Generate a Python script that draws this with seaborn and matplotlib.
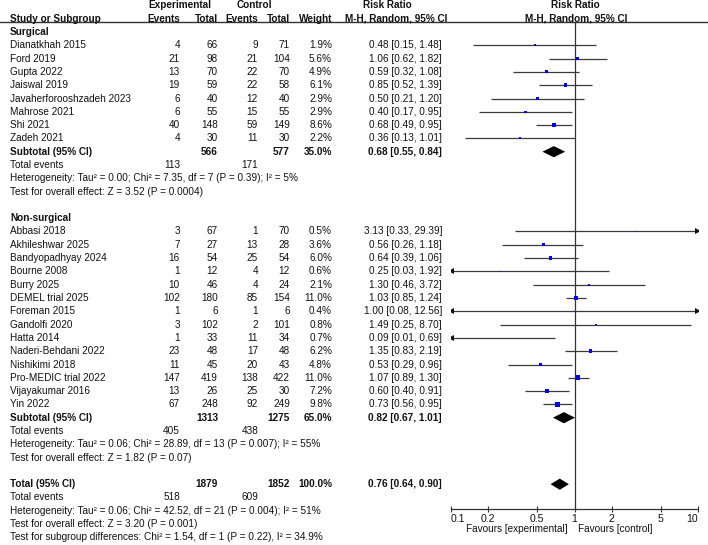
import numpy as np
import pandas as pd
import matplotlib
matplotlib.use("Agg")
import matplotlib.pyplot as plt
import seaborn as sns

# ---- data ----
surg_names = ["Dianatkhah 2015", "Ford 2019", "Gupta 2022", "Jaiswal 2019",
              "Javaherforooshzadeh 2023", "Mahrose 2021", "Shi 2021", "Zadeh 2021"]
surg_exp_ev = [4, 21, 13, 19, 6, 6, 40, 4]
surg_exp_n = [66, 98, 70, 59, 40, 55, 148, 30]
surg_ctl_ev = [9, 21, 22, 22, 12, 15, 59, 11]
surg_ctl_n = [71, 104, 70, 58, 40, 55, 149, 30]
surg_weight = [1.9, 5.6, 4.9, 6.1, 2.9, 2.9, 8.6, 2.2]
surg_rr = [0.48, 1.06, 0.59, 0.85, 0.50, 0.40, 0.68, 0.36]
surg_lo = [0.15, 0.62, 0.32, 0.52, 0.21, 0.17, 0.49, 0.13]
surg_hi = [1.48, 1.82, 1.08, 1.39, 1.20, 0.95, 0.95, 1.01]

nons_names = ["Abbasi 2018", "Akhileshwar 2025", "Bandyopadhyay 2024", "Bourne 2008",
              "Burry 2025", "DEMEL trial 2025", "Foreman 2015", "Gandolfi 2020",
              "Hatta 2014", "Naderi-Behdani 2022", "Nishikimi 2018",
              "Pro-MEDIC trial 2022", "Vijayakumar 2016", "Yin 2022"]
nons_exp_ev = [3, 7, 16, 1, 10, 102, 1, 3, 1, 23, 11, 147, 13, 67]
nons_exp_n = [67, 27, 54, 12, 46, 180, 6, 102, 33, 48, 45, 419, 26, 248]
nons_ctl_ev = [1, 13, 25, 4, 4, 85, 1, 2, 11, 17, 20, 138, 25, 92]
nons_ctl_n = [70, 28, 54, 12, 24, 154, 6, 101, 34, 48, 43, 422, 30, 249]
nons_weight = [0.5, 3.6, 6.0, 0.6, 2.1, 11.0, 0.4, 0.8, 0.7, 6.2, 4.8, 11.0, 7.2, 9.8]
nons_rr = [3.13, 0.56, 0.64, 0.25, 1.30, 1.03, 1.00, 1.49, 0.09, 1.35, 0.53, 1.07, 0.60, 0.73]
nons_lo = [0.33, 0.26, 0.39, 0.03, 0.46, 0.85, 0.08, 0.25, 0.01, 0.83, 0.29, 0.89, 0.40, 0.56]
nons_hi = [29.39, 1.18, 1.06, 1.92, 3.72, 1.24, 12.56, 8.70, 0.69, 2.19, 0.96, 1.30, 0.91, 0.95]

# pooled rows: surgical, non-surgical, total
pool_labels = ["Subtotal (95% CI)", "Subtotal (95% CI)", "Total (95% CI)"]
pool_exp_n = [566, 1313, 1879]
pool_ctl_n = [577, 1275, 1852]
pool_weight = [35.0, 65.0, 100.0]
pool_rr = [0.68, 0.82, 0.76]
pool_lo = [0.55, 0.67, 0.64]
pool_hi = [0.84, 1.01, 0.90]
pool_exp_ev = [113, 405, 518]
pool_ctl_ev = [171, 438, 609]
pool_het = ["Heterogeneity: Tau² = 0.00; Chi² = 7.35, df = 7 (P = 0.39); I² = 5%",
            "Heterogeneity: Tau² = 0.06; Chi² = 28.89, df = 13 (P = 0.007); I² = 55%",
            "Heterogeneity: Tau² = 0.06; Chi² = 42.52, df = 21 (P = 0.004); I² = 51%"]
pool_test = ["Test for overall effect: Z = 3.52 (P = 0.0004)",
             "Test for overall effect: Z = 1.82 (P = 0.07)",
             "Test for overall effect: Z = 3.20 (P = 0.001)"]
subgroup_test = "Test for subgroup differences: Chi² = 1.54, df = 1 (P = 0.22), I² = 34.9%"

ticks = [0.1, 0.2, 0.5, 1, 2, 5, 10]
tick_labels = ["0.1", "0.2", "0.5", "1", "2", "5", "10"]

# ---- row layout ----
surg_rows = list(range(1, 9))
nons_rows = list(range(15, 29))
pool_rows = [9, 29, 34]

studies = pd.DataFrame({
    "name": surg_names + nons_names,
    "exp_ev": surg_exp_ev + nons_exp_ev,
    "exp_n": surg_exp_n + nons_exp_n,
    "ctl_ev": surg_ctl_ev + nons_ctl_ev,
    "ctl_n": surg_ctl_n + nons_ctl_n,
    "weight": surg_weight + nons_weight,
    "rr": surg_rr + nons_rr,
    "lo": surg_lo + nons_lo,
    "hi": surg_hi + nons_hi,
    "row": surg_rows + nons_rows,
})

sns.set_theme(style="white")
plt.rcParams["font.family"] = ["Liberation Sans", "DejaVu Sans"]

W, H = 708, 545
fig = plt.figure(figsize=(W / 100, H / 100), dpi=100)

ROW0, STEP = 32.0, 13.3  # pixel y of row 0 and row spacing


def k_of(px):
    return (px - ROW0) / STEP


# text axes covering the whole figure: x in pixels, y in rows
tx = fig.add_axes([0, 0, 1, 1])
tx.set_xlim(0, W)
tx.set_ylim(k_of(H), k_of(0))
tx.axis("off")

FS = 7.2
C_TXT = "#111111"


def put(x, k, s, ha="left", bold=False):
    tx.text(x, k, s, ha=ha, va="center", fontsize=FS, color=C_TXT,
            fontweight="bold" if bold else "normal")


X_NAME, X_EE, X_EN, X_CE, X_CN, X_W, X_RR = 10, 180, 218, 258, 290, 332, 442

# headers
put(179.5, -2, "Experimental", ha="center", bold=True)
put(254.5, -2, "Control", ha="center", bold=True)
put(387.5, -2, "Risk Ratio", ha="center", bold=True)
put(575, -2, "Risk Ratio", ha="center", bold=True)
put(X_NAME, -1, "Study or Subgroup", bold=True)
put(X_EE, -1, "Events", ha="right", bold=True)
put(X_EN, -1, "Total", ha="right", bold=True)
put(X_CE, -1, "Events", ha="right", bold=True)
put(X_CN, -1, "Total", ha="right", bold=True)
put(X_W, -1, "Weight", ha="right", bold=True)
put(396, -1, "M-H, Random, 95% CI", ha="center", bold=True)
put(576, -1, "M-H, Random, 95% CI", ha="center", bold=True)
tx.plot([0, W], [k_of(22.3), k_of(22.3)], color="#333333", lw=1.0)

put(X_NAME, 0, "Surgical", bold=True)
put(X_NAME, 14, "Non-surgical", bold=True)

for _, r in studies.iterrows():
    k = r["row"]
    put(X_NAME, k, r["name"])
    put(X_EE, k, f"{r['exp_ev']}", ha="right")
    put(X_EN, k, f"{r['exp_n']}", ha="right")
    put(X_CE, k, f"{r['ctl_ev']}", ha="right")
    put(X_CN, k, f"{r['ctl_n']}", ha="right")
    put(X_W, k, f"{r['weight']:.1f}%", ha="right")
    put(X_RR, k, f"{r['rr']:.2f} [{r['lo']:.2f}, {r['hi']:.2f}]", ha="right")

for i, k in enumerate(pool_rows):
    put(X_NAME, k, pool_labels[i], bold=True)
    put(X_EN, k, f"{pool_exp_n[i]}", ha="right", bold=True)
    put(X_CN, k, f"{pool_ctl_n[i]}", ha="right", bold=True)
    put(X_W, k, f"{pool_weight[i]:.1f}%", ha="right", bold=True)
    put(X_RR, k, f"{pool_rr[i]:.2f} [{pool_lo[i]:.2f}, {pool_hi[i]:.2f}]", ha="right", bold=True)
    put(X_NAME, k + 1, "Total events")
    put(X_EE, k + 1, f"{pool_exp_ev[i]}", ha="right")
    put(X_CE, k + 1, f"{pool_ctl_ev[i]}", ha="right")
    put(X_NAME, k + 2, pool_het[i])
    put(X_NAME, k + 3, pool_test[i])
put(X_NAME, 38, subgroup_test)

# forest axes
X01, X10 = 451, 698
AX_TOP, AX_BOT = 22.3, 508.5
ax = fig.add_axes([X01 / W, 1 - AX_BOT / H, (X10 - X01) / W, (AX_BOT - AX_TOP) / H])
ax.set_xscale("log")
ax.set_xlim(0.1, 10)
ax.set_ylim(k_of(AX_BOT), k_of(AX_TOP))
ax.patch.set_alpha(0)
for s in ["top", "right", "left"]:
    ax.spines[s].set_visible(False)
ax.spines["bottom"].set_color("#333333")
ax.spines["bottom"].set_linewidth(0.9)
ax.set_yticks([])
ax.xaxis.set_minor_locator(matplotlib.ticker.NullLocator())
ax.set_xticks(ticks)
ax.set_xticklabels(tick_labels)
ax.tick_params(axis="x", direction="inout", length=5, width=0.8, color="#333333",
               labelsize=7.6, labelcolor=C_TXT, pad=1.5, bottom=True)
lbls = ax.get_xticklabels()
lbls[0].set_horizontalalignment("left")
lbls[-1].set_horizontalalignment("right")

ax.axvline(1, color="#333333", lw=0.9)

LINE_C = "#3a3a3a"
for _, r in studies.iterrows():
    lo = max(r["lo"], 0.1)
    hi = min(r["hi"], 10)
    ax.plot([lo, hi], [r["row"], r["row"]], color=LINE_C, lw=0.9, solid_capstyle="butt")
    if r["lo"] < 0.1:
        ax.plot(0.1, r["row"], marker="<", color="#111111", ms=4.2, mew=0)
    if r["hi"] > 10:
        ax.plot(10, r["row"], marker=">", color="#111111", ms=4.2, mew=0)

sns.scatterplot(data=studies, x="rr", y="row", size="weight",
                sizes=(min(studies["weight"]) * 1.0, max(studies["weight"]) * 1.0),
                marker="s", color="#0000ee", linewidth=0, legend=False, ax=ax, zorder=3)
ax.set_xlabel("")
ax.set_ylabel("")

for i, k in enumerate(pool_rows):
    xs = [pool_lo[i], pool_rr[i], pool_hi[i], pool_rr[i]]
    ys = [k, k - 0.42, k, k + 0.42]
    ax.fill(xs, ys, color="black", lw=0)

tx.text(568, k_of(529), "Favours [experimental]", ha="right", va="center",
        fontsize=FS, color=C_TXT)
tx.text(578, k_of(529), "Favours [control]", ha="left", va="center",
        fontsize=FS, color=C_TXT)

fig.savefig("out.png", dpi=100)
